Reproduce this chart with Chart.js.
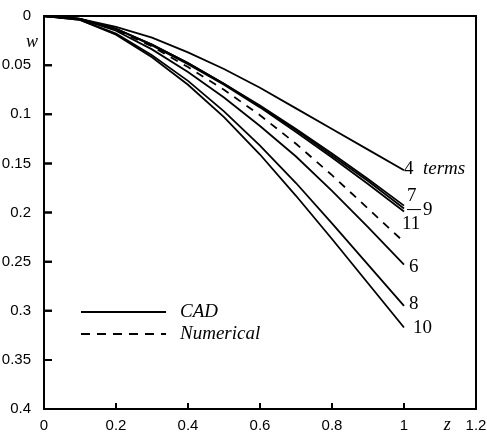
<!DOCTYPE html>
<html>
<head>
<meta charset="utf-8">
<script src="https://cdn.jsdelivr.net/npm/chart.js@4/dist/chart.umd.min.js"></script>
<style>
  html, body { margin: 0; padding: 0; background: #fff; }
  #wrap { width: 487px; height: 435px; }
</style>
</head>
<body>
<div id="wrap"><canvas id="defl" width="487" height="435"></canvas></div>
<script>
// z positions along the beam
const zVals = [0, 0.1, 0.2, 0.3, 0.4, 0.5, 0.6, 0.7, 0.8, 0.9, 1.0];

// deflection w for each number of terms (CAD)
const w4  = [0, 0.003, 0.011, 0.022, 0.037, 0.054, 0.073, 0.094, 0.115, 0.136, 0.157];
const w7  = [0, 0.003, 0.013, 0.029, 0.048, 0.069, 0.091, 0.115, 0.140, 0.166, 0.193];
const w9  = [0, 0.003, 0.013, 0.029, 0.048, 0.069, 0.092, 0.116, 0.142, 0.168, 0.196];
const w11 = [0, 0.003, 0.013, 0.030, 0.049, 0.070, 0.093, 0.118, 0.144, 0.171, 0.199];
const w6  = [0, 0.003, 0.015, 0.034, 0.057, 0.083, 0.112, 0.143, 0.178, 0.215, 0.253];
const w8  = [0, 0.004, 0.018, 0.040, 0.066, 0.097, 0.132, 0.170, 0.211, 0.253, 0.295];
const w10 = [0, 0.004, 0.019, 0.042, 0.070, 0.103, 0.141, 0.183, 0.227, 0.272, 0.317];
// numerical solution
const wNum = [0, 0.003, 0.014, 0.031, 0.052, 0.075, 0.101, 0.130, 0.162, 0.196, 0.230];

const xTicks = [0, 0.2, 0.4, 0.6, 0.8, 1, 1.2];
const yTicks = [0, 0.05, 0.1, 0.15, 0.2, 0.25, 0.3, 0.35, 0.4];

const SERIF = '"Liberation Serif", "Times New Roman", serif';
const SANS = '"Liberation Sans", Arial, sans-serif';

function pts(ys) {
  return zVals.map((z, i) => ({ x: z, y: ys[i] }));
}

function solid(ys) {
  return { data: pts(ys), borderColor: '#000', borderWidth: 1.8, pointRadius: 0, tension: 0 };
}

const datasets = [
  solid(w4), solid(w7), solid(w9), solid(w11), solid(w6), solid(w8), solid(w10),
  { data: pts(wNum), borderColor: '#000', borderWidth: 1.8, borderDash: [8, 7], pointRadius: 0, tension: 0 }
];

function drawFrame(chart) {
  const ctx = chart.ctx;
  const x = chart.scales.x, y = chart.scales.y;
  const L = x.getPixelForValue(0), R = x.getPixelForValue(1.2);
  const T = y.getPixelForValue(0), B = y.getPixelForValue(0.4);
  ctx.save();
  ctx.setLineDash([]);
  ctx.globalAlpha = 1;
  ctx.globalCompositeOperation = 'source-over';
  ctx.strokeStyle = 'rgb(0,0,0)';
  ctx.lineWidth = 2;
  ctx.beginPath();
  ctx.moveTo(L, T); ctx.lineTo(R, T); ctx.lineTo(R, B); ctx.lineTo(L, B); ctx.closePath();
  // inward ticks
  xTicks.slice(1, -1).forEach(v => {
    const px = x.getPixelForValue(v);
    ctx.moveTo(px, B); ctx.lineTo(px, B - 6);
  });
  yTicks.slice(1, -1).forEach(v => {
    const py = y.getPixelForValue(v);
    ctx.moveTo(L, py); ctx.lineTo(L + 8, py);
  });
  ctx.stroke();
  ctx.restore();
}

// frame, inward ticks, curve labels, legend
const decor = {
  id: 'decor',
  beforeDatasetsDraw(chart) {
    drawFrame(chart);
  },
  afterDraw(chart) {
    drawFrame(chart);
    const ctx = chart.ctx;
    const x = chart.scales.x, y = chart.scales.y;
    const B = y.getPixelForValue(0.4);
    ctx.save();
    ctx.setLineDash([]);

    // curve labels at the right ends
    const ex = x.getPixelForValue(1);
    const end = arr => y.getPixelForValue(arr[arr.length - 1]);
    ctx.fillStyle = '#000';
    ctx.strokeStyle = '#000';
    ctx.textBaseline = 'middle';
    ctx.textAlign = 'left';
    ctx.font = '19px ' + SERIF;
    ctx.fillText('4', ex, end(w4) - 1);
    ctx.fillText('7', ex + 3, end(w7) - 10);
    ctx.fillText('9', ex + 19, end(w9) + 1);
    ctx.fillText('11', ex - 2, end(w11) + 12);
    ctx.fillText('6', ex + 5, end(w6) + 2);
    ctx.fillText('8', ex + 5, end(w8) - 2);
    ctx.fillText('10', ex + 9, end(w10) + 1);
    ctx.font = 'italic 19px ' + SERIF;
    ctx.fillText('terms', ex + 19, end(w4) - 1);

    ctx.lineWidth = 1;
    ctx.beginPath();
    ctx.moveTo(ex + 3, end(w9) + 1);
    ctx.lineTo(ex + 17, end(w9) + 1);
    ctx.stroke();

    // axis titles
    ctx.font = 'italic 18px ' + SERIF;
    ctx.textAlign = 'center';
    ctx.fillText('w', 32, y.getPixelForValue(0.027));
    ctx.fillText('z', x.getPixelForValue(1.12), B + 16);

    // legend
    ctx.lineWidth = 1.8;
    ctx.beginPath();
    ctx.moveTo(81, 312); ctx.lineTo(166, 312);
    ctx.stroke();
    ctx.setLineDash([9, 7]);
    ctx.beginPath();
    ctx.moveTo(81, 334); ctx.lineTo(166, 334);
    ctx.stroke();
    ctx.setLineDash([]);
    ctx.textAlign = 'left';
    ctx.font = 'italic 19px ' + SERIF;
    ctx.fillText('CAD', 180, 312);
    ctx.fillText('Numerical', 180, 334);
    ctx.restore();
  }
};

const fmt = v => String(Number(v.toFixed(2)));

new Chart(document.getElementById('defl'), {
  type: 'line',
  data: { datasets },
  options: {
    responsive: false,
    animation: false,
    layout: { padding: { top: 16, right: 11 } },
    plugins: { legend: { display: false }, tooltip: { enabled: false } },
    scales: {
      x: {
        type: 'linear', min: 0, max: 1.2,
        grid: { display: false },
        border: { display: true, color: '#000', width: 2 },
        afterBuildTicks: s => { s.ticks = xTicks.map(v => ({ value: v })); },
        afterFit: s => { s.height = 26; },
        ticks: { color: '#000', font: { family: SANS, size: 15 }, padding: 0, maxRotation: 0, autoSkip: false, callback: fmt }
      },
      y: {
        type: 'linear', min: 0, max: 0.4, reverse: true,
        grid: { display: false },
        border: { display: true, color: '#000', width: 2 },
        afterBuildTicks: s => { s.ticks = yTicks.map(v => ({ value: v })); },
        afterFit: s => { s.width = 44; },
        ticks: { color: '#000', font: { family: SANS, size: 15 }, padding: 5, autoSkip: false, callback: fmt }
      }
    }
  },
  plugins: [decor]
});
</script>
</body>
</html>
